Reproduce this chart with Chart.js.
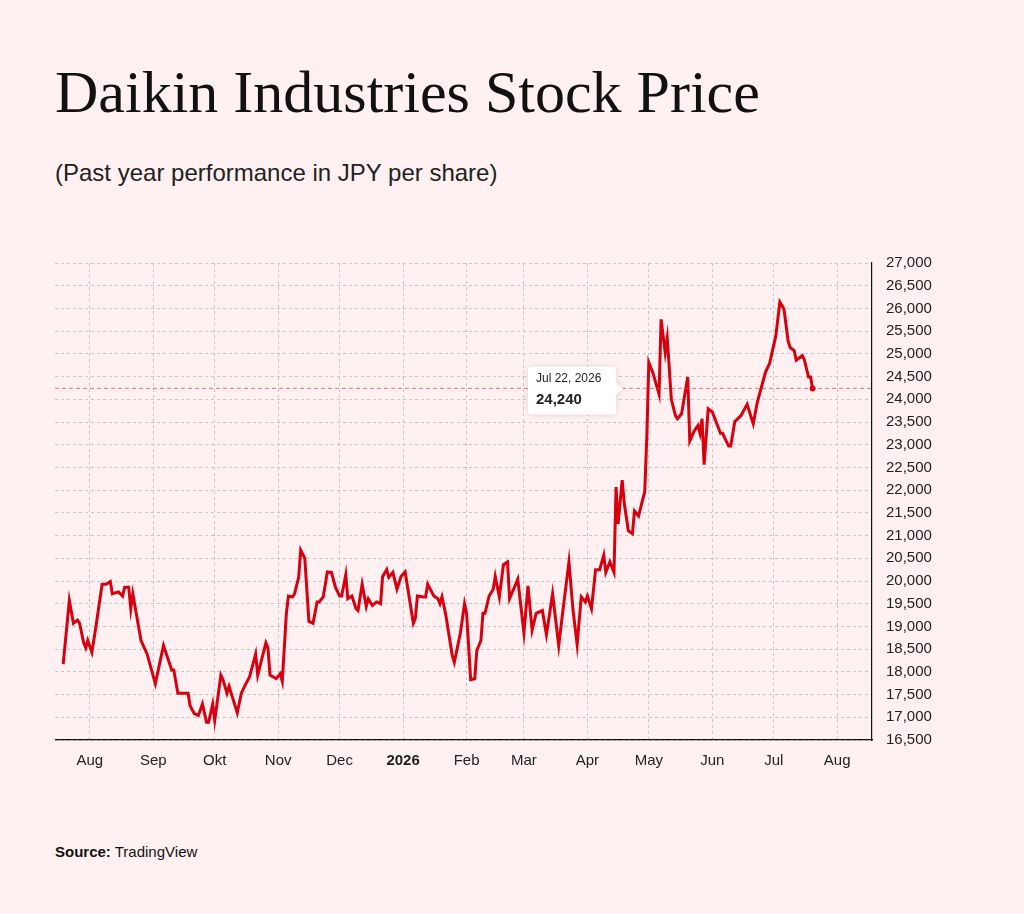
<!DOCTYPE html>
<html>
<head>
<meta charset="utf-8">
<script src="https://cdn.jsdelivr.net/npm/chart.js@4"></script>
<style>
  body { margin: 0; background: #fff1f1; width: 1024px; height: 914px; position: relative; overflow: hidden; }
  h1 { position: absolute; left: 55px; top: 58px; margin: 0; font: 400 60px "Liberation Serif", serif; color: #111; }
  .sub { position: absolute; left: 55px; top: 159px; font: 24px "Liberation Sans", Arial, sans-serif; color: #222; }
  .src { position: absolute; left: 55px; top: 843px; font: 15px "Liberation Sans", Arial, sans-serif; color: #111; }
  #wrap { position: absolute; left: 55px; top: 240px; width: 900px; height: 540px; }
</style>
</head>
<body>
<h1>Daikin Industries Stock Price</h1>
<div class="sub">(Past year performance in JPY per share)</div>
<div class="src"><b>Source:</b> TradingView</div>
<div id="wrap"><canvas id="c"></canvas></div>
<script>
// days since Aug 1 2025
const days = [-13,-10,-8,-6,-5,-3,-2,-1,1,3,6,8,10,11,14,16,17,19,20,21,25,28,32,36,40,41,43,45,48,49,51,53,55,57,58,60,61,64,65,67,68,72,74,76,78,81,82,86,87,88,91,93,94,96,97,
  99,100,102,103,105,107,109,111,112,114,116,118,120,122,123,125,126,128,130,131,133,135,136,138,140,142,143,145,146,148,150,152,154,158,159,160,163,164,165,168,170,171,172,174,175,177,178,181,183,184,186,188,189,191,192,193,195,197,198,200,202,204,205,209,212,214,216,218,221,223,226,229,231,234,236,238,240,242,243,245,247,249,251,252,254,256,257,258,260,261,263,265,266,268,270,271,272,273,275,278,279,281,282,284,286,287,289,292,293,295,297,298,299,300,302,304,308,309,312,313,315,318,321,324,326,330,332,335,337,339,341,342,344,345,348,349,351,352,353];
const prices = [18170,19570,19070,19140,19070,18640,18530,18690,18430,19000,19930,19930,19990,19720,19760,19670,19860,19860,19390,19720,18690,18390,17740,18580,18040,18040,17530,17530,17530,17250,17080,17040,17290,16890,16890,17290,16930,17930,17830,17530,17680,17100,17530,17720,17890,18390,17930,18640,18530,17930,17850,17960,17790,19290,19670,
  19650,19720,20080,20680,20500,19110,19070,19540,19540,19650,20200,20190,19860,19670,19670,20140,19610,19670,19390,19350,19930,19440,19610,19460,19540,19500,20100,20250,20080,20190,19820,20100,20200,19070,19180,19670,19650,19650,19930,19670,19610,19500,19650,19220,18920,18360,18210,18860,19500,19290,17830,17850,18470,18690,19290,19290,19670,19820,20100,19650,20360,20420,19610,20040,18860,19890,18920,19290,19350,18820,19720,18580,19330,20420,19350,18600,19650,19540,19670,19390,20250,20250,20570,20190,20420,20190,22070,21260,22220,21710,21110,21040,21540,21430,21790,21960,23140,24810,24580,24110,25760,25030,25350,24000,23640,23570,23680,24490,23080,23290,23420,23250,23570,22560,23790,23720,23250,23250,22970,22970,23510,23640,23890,23460,23940,24600,24790,25390,26140,25990,25290,25140,25070,24860,24960,24860,24490,24490,24240];
const monthDays = [0,31,61,92,122,153,184,212,243,273,304,334,365];
const monthLabels = ["Aug","Sep","Okt","Nov","Dec","2026","Feb","Mar","Apr","May","Jun","Jul","Aug"];
const lastLabel = "Jul 22, 2026";
const lastValue = 24240;

const font = "'Liberation Sans', Arial, sans-serif";
const gridDash = { color: "#cbc6c6", lineWidth: 1, drawTicks: false };

const markerPlugin = {
  id: "marker",
  afterDatasetsDraw(chart) {
    const { ctx, chartArea, scales } = chart;
    const x = scales.x.getPixelForValue(days[days.length - 1]);
    const y = scales.y.getPixelForValue(lastValue);
    ctx.save();
    ctx.strokeStyle = "rgba(230,60,60,0.7)";
    ctx.setLineDash([4, 3]);
    ctx.beginPath(); ctx.moveTo(chartArea.left, y); ctx.lineTo(chartArea.right, y); ctx.stroke();
    ctx.setLineDash([]);
    ctx.fillStyle = "#d6000f";
    ctx.beginPath(); ctx.arc(x, y, 3, 0, Math.PI * 2); ctx.fill();
    // tooltip box
    const bw = 88, bh = 48, bx = 473, by = y - 22;
    ctx.shadowColor = "rgba(0,0,0,0.12)"; ctx.shadowBlur = 6;
    ctx.fillStyle = "#fff";
    ctx.beginPath();
    ctx.roundRect(bx, by, bw, bh, 4);
    ctx.moveTo(bx + bw, y - 6); ctx.lineTo(bx + bw + 7, y); ctx.lineTo(bx + bw, y + 6);
    ctx.fill();
    ctx.shadowBlur = 0;
    ctx.fillStyle = "#222";
    ctx.font = "12px " + font;
    ctx.fillText(lastLabel, bx + 8, by + 16);
    ctx.font = "bold 15px " + font;
    ctx.fillText(lastValue.toLocaleString("en-US"), bx + 8, by + 38);
    ctx.restore();
  }
};

new Chart(document.getElementById("c"), {
  type: "line",
  data: {
    datasets: [{
      data: days.map((d, i) => ({ x: d, y: prices[i] })),
      borderColor: "#d6000f",
      borderWidth: 3,
      pointRadius: 0,
      tension: 0,
    }],
  },
  options: {
    responsive: true,
    maintainAspectRatio: false,
    animation: false,
    layout: { padding: { top: 10, left: 0, right: 0, bottom: 0 } },
    plugins: { legend: { display: false }, tooltip: { enabled: false } },
    scales: {
      x: {
        type: "linear",
        min: -17,
        max: 382,
        afterBuildTicks: (axis) => { axis.ticks = monthDays.map((v) => ({ value: v })); },
        afterFit: (axis) => { axis.height = 40; },
        ticks: {
          color: "#222",
          padding: 12,
          maxRotation: 0,
          font: (c) => ({ family: font, size: 15, weight: monthLabels[c.index] === "2026" ? "bold" : "normal" }),
          callback: (v, i) => monthLabels[i],
        },
        grid: gridDash,
        border: { display: true, color: "#111", width: 1.2, dash: [3, 3] },
      },
      y: {
        position: "right",
        min: 16500,
        max: 27000,
        afterBuildTicks: (axis) => {
          const t = [];
          for (let v = 16500; v <= 27000; v += 500) t.push({ value: v });
          axis.ticks = t;
        },
        afterFit: (axis) => { axis.width = 83; },
        ticks: {
          color: "#222",
          padding: 14,
          font: { family: font, size: 15 },
          callback: (v) => v.toLocaleString("en-US"),
        },
        grid: gridDash,
        border: { display: true, color: "#111", width: 1.2, dash: [3, 3] },
      },
    },
  },
  plugins: [markerPlugin],
});
</script>
</body>
</html>
